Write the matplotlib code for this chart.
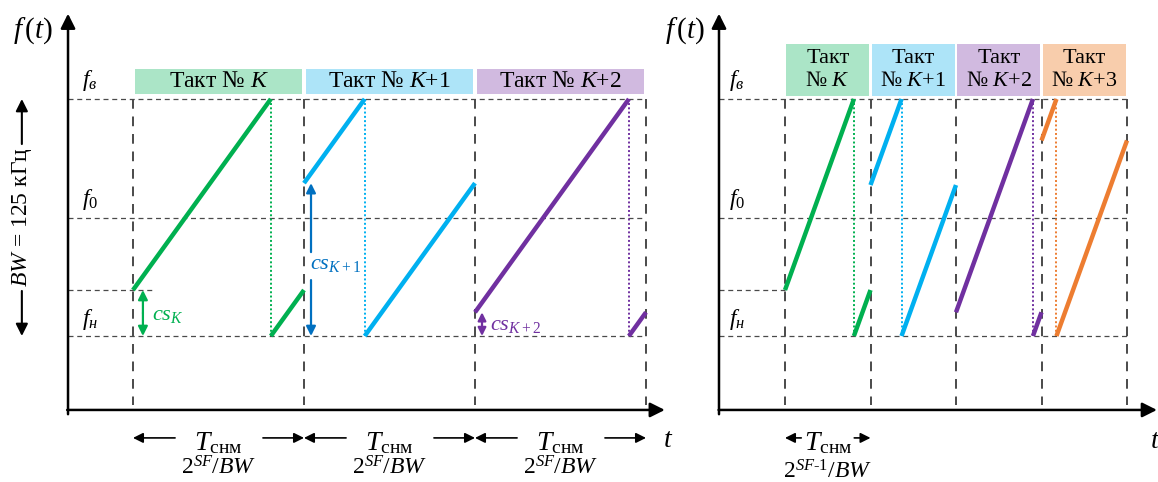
import matplotlib.pyplot as plt
from matplotlib.patches import Rectangle

plt.rcParams['font.family'] = ['Liberation Serif', 'DejaVu Serif']
plt.rcParams['mathtext.fontset'] = 'custom'
plt.rcParams['mathtext.rm'] = 'Liberation Serif'
plt.rcParams['mathtext.it'] = 'Liberation Serif:italic'

# cyclic shift of each chirp as fraction of BW (0 = f_н, 1 = f_в)
cs_left = [0.194, 0.645, 0.10]
cs_right = [0.194, 0.637, 0.10, 0.825]

line_colors = ['#00B050', '#00B0F0', '#7030A0', '#ED7D31']
box_colors = ['#ABE5C7', '#ADE4F8', '#D1BAE0', '#F8CDAC']
labels_left = ['Такт № $K$', 'Такт № $K$+1', 'Такт № $K$+2']
labels_right = ['Такт\n№ $K$', 'Такт\n№ $K$+1', 'Такт\n№ $K$+2', 'Такт\n№ $K$+3']
cs_labels = ['$cs_K$', '$cs_{K+1}$', '$cs_{K+2}$']
cs_label_colors = ['#00B050', '#0070C0', '#7030A0']
freq_labels = ['$f_в$', '$f_0$', '$f_н$']
freq_label_pos = [1.08, 0.574, 0.068]

W, H = 1158, 482
GRID = '#4a4a4a'

fig = plt.figure(figsize=(W / 100, H / 100), dpi=100)


def make_axes(px0, px1, t0_px, sym_px):
    ax = fig.add_axes([px0 / W, 0, (px1 - px0) / W, 1])
    ax.set_xlim((px0 - t0_px) / sym_px, (px1 - t0_px) / sym_px)
    ax.set_ylim((336 - H) / 237, 336 / 237)
    ax.axis('off')
    return ax


def arrow(ax, tail, head, lw=1.5, ms=16, color='k'):
    ax.annotate('', xy=head, xytext=tail, annotation_clip=False,
                arrowprops=dict(arrowstyle='-|>', color=color, lw=lw,
                                mutation_scale=ms, shrinkA=0, shrinkB=0))


def panel(ax, cs_list, labels, yaxis_t, xend_t, hline_end, lab_t, ftx, box_y, fs_box):
    n = len(cs_list)
    # axes with arrows
    arrow(ax, (yaxis_t, -0.33), (yaxis_t, 1.36), lw=1.8, ms=22)
    arrow(ax, (yaxis_t - 0.005, -0.312), (xend_t, -0.312), lw=1.8, ms=22)
    ax.text(ftx, 1.29, '$f\\,(t)$', fontsize=21, ha='center', va='center')

    # dashed reference lines
    for f in [1.0, 0.5, 0.0]:
        ax.plot([yaxis_t, hline_end], [f, f], color=GRID, lw=0.9, ls=(0, (4, 3)))
    ax.plot([yaxis_t, 0.11 if n == 3 else 0], [cs_list[0]] * 2, color=GRID, lw=0.9,
            ls=(0, (4, 3)))
    for k in range(n + 1):
        ax.plot([k, k], [1, -0.29], color=GRID, lw=1.4, ls=(0, (5, 4)))

    for lab, f in zip(freq_labels, freq_label_pos):
        ax.text(lab_t, f, lab, fontsize=17, ha='center', va='center')

    # header boxes
    for k, lab in enumerate(labels):
        ax.add_patch(Rectangle((k + 0.012, box_y[0]), 0.976, box_y[1] - box_y[0],
                               facecolor=box_colors[k], edgecolor='none'))
        ax.text(k + 0.5, (box_y[0] + box_y[1]) / 2, lab, fontsize=fs_box,
                ha='center', va='center', linespacing=1.35)

    # chirps
    for k, cs in enumerate(cs_list):
        c = line_colors[k]
        tw = k + 1 - cs
        ax.plot([k, tw], [cs, 1], color=c, lw=3.2, solid_capstyle='butt')
        ax.plot([tw, k + 1], [0, cs], color=c, lw=3.2, solid_capstyle='butt')
        ax.plot([tw, tw], [0, 1], color=c, lw=1.4, ls=(0, (1, 1.2)))


# ---- left panel: 2^SF/BW symbols ----
axL = make_axes(0, 660, 133, 171)
panel(axL, cs_left, labels_left, -0.38, 3.11, 2.994, -0.251, -0.585,
      (1.021, 1.127), 17)

# BW arrow
arrow(axL, (-0.65, 0.81), (-0.65, 1.0), lw=1.5, ms=18)
arrow(axL, (-0.65, 0.19), (-0.65, 0.0), lw=1.5, ms=18)
axL.text(-0.65, 0.5, '$BW$ = 125 кГц', fontsize=17, rotation=90,
         ha='center', va='center')

# cyclic shift markers
arrow(axL, (0.058, 0.097), (0.058, 0.194), lw=1.6, ms=14, color=cs_label_colors[0])
arrow(axL, (0.058, 0.097), (0.058, 0.0), lw=1.6, ms=14, color=cs_label_colors[0])
axL.text(0.11, 0.085, cs_labels[0], fontsize=16, color=cs_label_colors[0],
         ha='left', va='center')

arrow(axL, (1.041, 0.354), (1.041, cs_left[1]), lw=1.6, ms=14, color=cs_label_colors[1])
arrow(axL, (1.041, 0.236), (1.041, 0.0), lw=1.6, ms=14, color=cs_label_colors[1])
axL.text(1.035, 0.30, cs_labels[1], fontsize=16, color=cs_label_colors[1],
         ha='left', va='center')

arrow(axL, (2.041, 0.05), (2.041, cs_left[2]), lw=1.6, ms=12, color=cs_label_colors[2])
arrow(axL, (2.041, 0.05), (2.041, 0.0), lw=1.6, ms=12, color=cs_label_colors[2])
axL.text(2.09, 0.045, cs_labels[2], fontsize=16, color=cs_label_colors[2],
         ha='left', va='center')

# symbol duration labels
for k in range(3):
    arrow(axL, (k + 0.246, -0.43), (k + 0.0, -0.43), lw=1.2, ms=15)
    arrow(axL, (k + 0.76, -0.43), (k + 1.0, -0.43), lw=1.2, ms=15)
    axL.text(k + 0.5, -0.45, '$T_{\\mathrm{снм}}$', fontsize=20, ha='center', va='center')
    axL.text(k + 0.5, -0.555, '$2^{SF}/BW$', fontsize=17, ha='center', va='center')
axL.text(3.13, -0.44, '$t$', fontsize=20, ha='center', va='center')

# ---- right panel: 2^(SF-1)/BW symbols ----
axR = make_axes(660, 1158, 785, 85.5)
panel(axR, cs_right, labels_right, -0.772, 4.35, 4.035, -0.561, -1.17,
      (1.013, 1.232), 16)

arrow(axR, (0.19, -0.43), (0.0, -0.43), lw=1.2, ms=15)
arrow(axR, (0.81, -0.43), (1.0, -0.43), lw=1.2, ms=15)
axR.text(0.5, -0.45, '$T_{\\mathrm{снм}}$', fontsize=20, ha='center', va='center')
axR.text(0.5, -0.575, '$2^{SF\\text{-}1}/BW$', fontsize=17, ha='center', va='center')
axR.text(4.33, -0.445, '$t$', fontsize=20, ha='center', va='center')

fig.savefig('out.png', dpi=100)
